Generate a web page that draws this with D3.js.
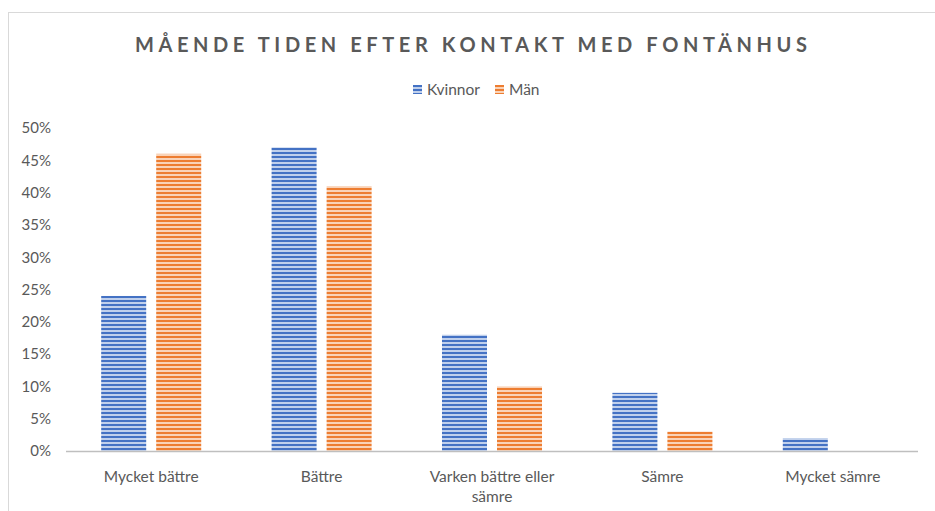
<!DOCTYPE html>
<html>
<head>
<meta charset="utf-8">
<script src="https://cdn.jsdelivr.net/npm/d3@7"></script>
<style>
  body { margin: 0; background: #fff; }
  text { font-family: Lato, "Open Sans", sans-serif; fill: #595959; }
</style>
</head>
<body>
<div id="chart"></div>
<script>
var svgWidth = 935;
var svgHeight = 511;

// data
var categories = ["Mycket bättre", "Bättre", "Varken bättre eller sämre", "Sämre", "Mycket sämre"];
var seriesNames = ["Kvinnor", "Män"];
var kvinnor = [0.24, 0.47, 0.18, 0.09, 0.02];
var man = [0.46, 0.41, 0.10, 0.03, 0];
var yTicks = [0, 0.05, 0.10, 0.15, 0.20, 0.25, 0.30, 0.35, 0.40, 0.45, 0.50];

var colors = { "Kvinnor": ["#4472c4", "#c0d0ec"], "Män": ["#ed7d31", "#f9d3b8"] };

var margin = { top: 128, right: 17, bottom: 60, left: 66 };
var width = 918 - margin.left;
var height = 451 - margin.top;

var svg = d3.select("#chart")
  .append("svg")
  .attr("width", svgWidth)
  .attr("height", svgHeight);

// stripe patterns
var defs = svg.append("defs");
seriesNames.forEach(function(name, i) {
  var p = defs.append("pattern")
    .attr("id", "stripe" + i)
    .attr("patternUnits", "userSpaceOnUse")
    .attr("width", 8)
    .attr("height", 4);
  p.append("rect").attr("width", 8).attr("height", 4).attr("fill", colors[name][1]);
  p.append("rect").attr("width", 8).attr("height", 2).attr("fill", colors[name][0]);
});

// chart border
svg.append("rect")
  .attr("x", 8.5)
  .attr("y", 12.5)
  .attr("width", 940)
  .attr("height", 520)
  .attr("fill", "none")
  .attr("stroke", "#d9d9d9");

// title
svg.append("text")
  .attr("x", 471)
  .attr("y", 52)
  .attr("text-anchor", "middle")
  .attr("textLength", 672)
  .attr("lengthAdjust", "spacing")
  .style("font-size", "20px")
  .style("font-weight", "bold")
  .text("MÅENDE TIDEN EFTER KONTAKT MED FONTÄNHUS");

// legend
var legendX = [413, 495];
seriesNames.forEach(function(name, i) {
  var g = svg.append("g").attr("transform", `translate(${legendX[i]}, 85)`);
  g.append("rect").attr("width", 9).attr("height", 9).attr("fill", "url(#stripe" + i + ")");
  g.append("text").attr("x", 14).attr("y", 10).style("font-size", "15.5px").text(name);
});

var chartGroup = svg.append("g")
  .attr("transform", `translate(${margin.left}, ${margin.top})`);

var x0 = d3.scaleBand()
  .domain(categories)
  .range([0, width])
  .paddingInner(0.413)
  .paddingOuter(0.2065);

var x1 = d3.scaleBand()
  .domain(seriesNames)
  .range([0, x0.bandwidth()])
  .paddingInner(0.1818);

var y = d3.scaleLinear()
  .domain([0, 0.5])
  .range([height, 0]);

// y axis labels
var leftAxis = d3.axisLeft(y)
  .tickValues(yTicks)
  .tickFormat(d3.format(".0%"))
  .tickSize(0)
  .tickPadding(15);

var yAxis = chartGroup.append("g").call(leftAxis);
yAxis.select(".domain").remove();
yAxis.selectAll("text").style("font-size", "15px").attr("fill", "#595959");

// bars
var values = { "Kvinnor": kvinnor, "Män": man };
seriesNames.forEach(function(name, i) {
  chartGroup.selectAll(".bar" + i)
    .data(categories)
    .enter()
    .append("rect")
    .attr("class", "bar" + i)
    .attr("x", (d) => x0(d) + x1(name))
    .attr("width", x1.bandwidth())
    .attr("y", (d, j) => y(values[name][j]))
    .attr("height", (d, j) => height - y(values[name][j]))
    .attr("fill", "url(#stripe" + i + ")");
});

// x axis line
chartGroup.append("line")
  .attr("x1", 0)
  .attr("x2", width)
  .attr("y1", height + 0.5)
  .attr("y2", height + 0.5)
  .attr("stroke", "#bfbfbf")
  .attr("stroke-width", 1.5);

// category labels (wrapped like the original)
var labelLines = [["Mycket bättre"], ["Bättre"], ["Varken bättre eller", "sämre"], ["Sämre"], ["Mycket sämre"]];
categories.forEach(function(cat, i) {
  var t = chartGroup.append("text")
    .attr("x", x0(cat) + x0.bandwidth() / 2)
    .attr("y", height + 31)
    .attr("text-anchor", "middle")
    .style("font-size", "15.5px");
  labelLines[i].forEach(function(line, k) {
    t.append("tspan")
      .attr("x", x0(cat) + x0.bandwidth() / 2)
      .attr("dy", k === 0 ? 0 : 20)
      .text(line);
  });
});
</script>
</body>
</html>
